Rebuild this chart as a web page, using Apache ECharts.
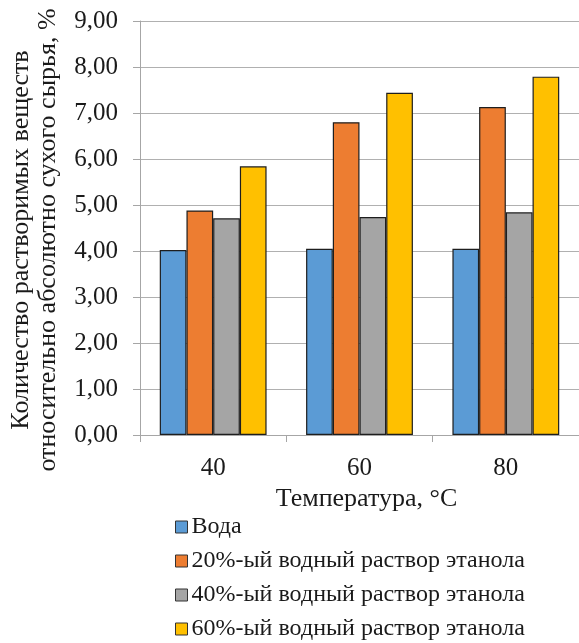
<!DOCTYPE html>
<html>
<head>
<meta charset="utf-8">
<script src="https://cdn.jsdelivr.net/npm/echarts@6/dist/echarts.min.js"></script>
<style>
  html, body { margin: 0; padding: 0; background: #fff; }
  #chart { width: 579px; height: 643px; }
</style>
</head>
<body>
<div id="chart"></div>
<script>
// Temperature categories, °C
const temperatures = ['40', '60', '80'];

// Soluble solids yield, % of absolutely dry raw material
const water = [4.02, 4.05, 4.05];
const ethanol20 = [4.88, 6.80, 7.13];
const ethanol40 = [4.71, 4.74, 4.84];
const ethanol60 = [5.84, 7.44, 7.79];

const seriesNames = [
  'Вода',
  '20%-ый водный раствор этанола',
  '40%-ый водный раствор этанола',
  '60%-ый водный раствор этанола'
];
const seriesColors = ['#5B9BD5', '#ED7D31', '#A5A5A5', '#FFC000'];

const yTitle = 'Количество растворимых веществ\nотносительно абсолютно сухого сырья, %';
const xTitle = 'Температура, °C';

const FONT = '"Liberation Serif", "Times New Roman", serif';

const chart = echarts.init(document.getElementById('chart'), null, { renderer: 'canvas' });

function barSeries(name, data, color) {
  return {
    name: name,
    type: 'bar',
    data: data,
    barGap: '0%',
    barCategoryGap: '27%',
    itemStyle: { color: color, borderColor: '#1e1e1e', borderWidth: 1.2 }
  };
}

chart.setOption({
  animation: false,
  backgroundColor: '#ffffff',
  textStyle: { fontFamily: FONT },
  grid: { left: 140, top: 21, width: 442, height: 414, containLabel: false },
  xAxis: {
    type: 'category',
    data: temperatures,
    boundaryGap: true,
    axisLine: { lineStyle: { color: '#a6a6a6', width: 1 } },
    axisTick: { show: true, length: 7, interval: 0, lineStyle: { color: '#a6a6a6' } },
    axisLabel: { color: '#1a1a1a', fontFamily: FONT, fontSize: 25, margin: 21 },
    name: xTitle,
    nameLocation: 'middle',
    nameGap: 50,
    nameTextStyle: { color: '#1a1a1a', fontFamily: FONT, fontSize: 26, padding: [0, 0, 0, 14] }
  },
  yAxis: {
    type: 'value',
    min: 0,
    max: 9,
    interval: 1,
    axisLine: { show: true, lineStyle: { color: '#a6a6a6', width: 1 } },
    axisTick: { show: true, length: 7, lineStyle: { color: '#a6a6a6' } },
    splitLine: { lineStyle: { color: '#b0b0b0', width: 1.2 } },
    axisLabel: {
      color: '#1a1a1a', fontFamily: FONT, fontSize: 25, margin: 22,
      formatter: v => v.toFixed(2).replace('.', ',')
    }
  },
  legend: {
    orient: 'vertical',
    left: 175,
    top: 515,
    height: 140,
    padding: 0,
    itemWidth: 12,
    itemHeight: 12,
    itemGap: 10,
    icon: 'rect',
    itemStyle: { borderColor: '#333', borderWidth: 1 },
    textStyle: { color: '#1a1a1a', fontFamily: FONT, fontSize: 24, lineHeight: 24, padding: [0, 0, 0, -1] },
    data: seriesNames
  },
  graphic: [{
    type: 'text',
    x: 35,
    y: 240,
    rotation: Math.PI / 2,
    style: {
      text: yTitle,
      fill: '#1a1a1a',
      font: '26px ' + FONT,
      lineHeight: 27,
      align: 'center',
      verticalAlign: 'middle'
    }
  }],
  series: [
    barSeries(seriesNames[0], water, seriesColors[0]),
    barSeries(seriesNames[1], ethanol20, seriesColors[1]),
    barSeries(seriesNames[2], ethanol40, seriesColors[2]),
    barSeries(seriesNames[3], ethanol60, seriesColors[3])
  ]
});
</script>
</body>
</html>
